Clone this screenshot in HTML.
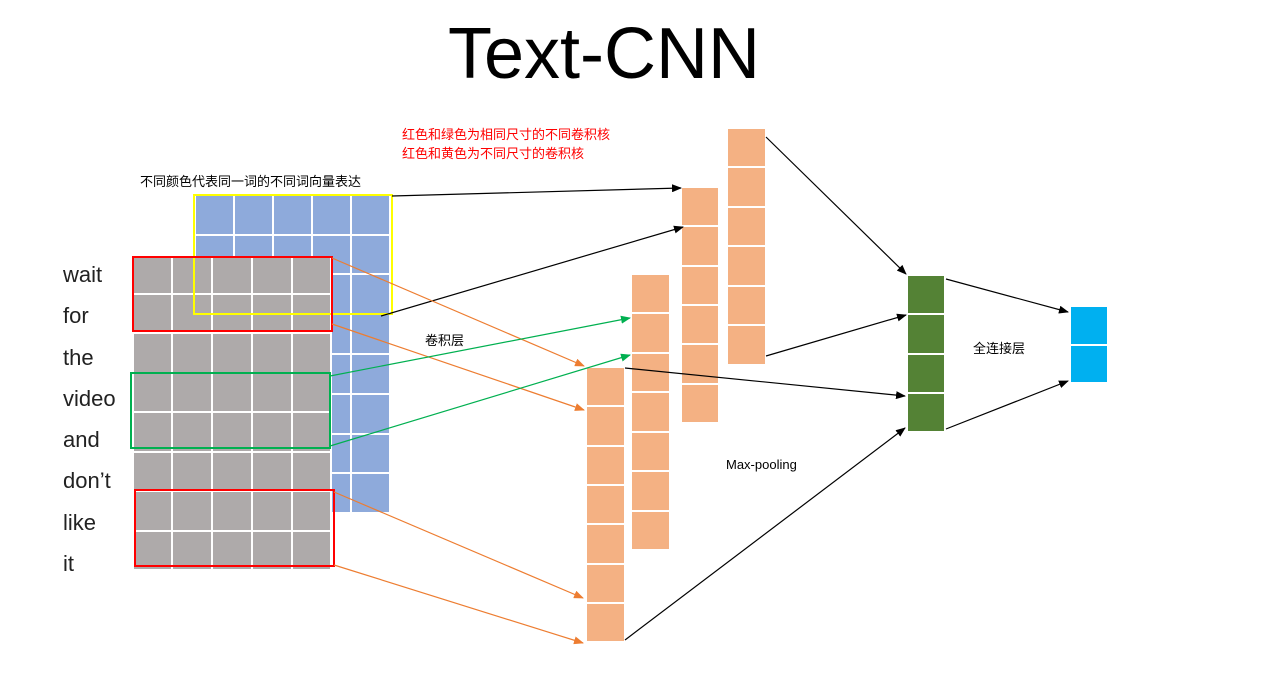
<!DOCTYPE html>
<html><head><meta charset="utf-8"><style>
body{margin:0;width:1275px;height:691px;background:#fff;position:relative;overflow:hidden;font-family:"Liberation Sans","Noto Sans CJK SC",sans-serif}
.t{position:absolute;white-space:nowrap}
</style></head><body>
<svg width="1275" height="691" style="position:absolute;left:0;top:0">
<defs>
<marker id="ak" markerWidth="10" markerHeight="8" refX="9" refY="4" orient="auto" markerUnits="userSpaceOnUse"><path d="M0,0 L10,4 L0,8z" fill="#000"/></marker>
<marker id="ao" markerWidth="10" markerHeight="8" refX="9" refY="4" orient="auto" markerUnits="userSpaceOnUse"><path d="M0,0 L10,4 L0,8z" fill="#ed7d31"/></marker>
<marker id="ag" markerWidth="10" markerHeight="8" refX="9" refY="4" orient="auto" markerUnits="userSpaceOnUse"><path d="M0,0 L10,4 L0,8z" fill="#00b050"/></marker>
</defs>
<!-- blue grid -->
<g stroke="#fff" stroke-width="2">
<rect x="195" y="195" width="195" height="318" fill="#8eaadb"/>
<line x1="234" y1="195" x2="234" y2="513"/><line x1="273" y1="195" x2="273" y2="513"/><line x1="312" y1="195" x2="312" y2="513"/><line x1="351" y1="195" x2="351" y2="513"/>
<line x1="195" y1="235" x2="390" y2="235"/><line x1="195" y1="274" x2="390" y2="274"/><line x1="195" y1="314" x2="390" y2="314"/><line x1="195" y1="354" x2="390" y2="354"/><line x1="195" y1="394" x2="390" y2="394"/><line x1="195" y1="434" x2="390" y2="434"/><line x1="195" y1="473" x2="390" y2="473"/>
</g>
<!-- gray grid -->
<g stroke="#fff" stroke-width="2">
<rect x="133" y="257" width="198" height="313" fill="#aeaaaa"/>
<line x1="172" y1="257" x2="172" y2="570"/><line x1="212" y1="257" x2="212" y2="570"/><line x1="252" y1="257" x2="252" y2="570"/><line x1="292" y1="257" x2="292" y2="570"/>
<line x1="133" y1="294" x2="331" y2="294"/><line x1="133" y1="333" x2="331" y2="333"/><line x1="133" y1="373" x2="331" y2="373"/><line x1="133" y1="412" x2="331" y2="412"/><line x1="133" y1="452" x2="331" y2="452"/><line x1="133" y1="491" x2="331" y2="491"/><line x1="133" y1="531" x2="331" y2="531"/>
</g>
<rect x="194" y="195" width="198" height="119" fill="none" stroke="#ffff00" stroke-width="2"/>
<rect x="133" y="257" width="199" height="74" fill="none" stroke="#ff0000" stroke-width="2"/>
<rect x="131" y="373" width="199" height="75" fill="none" stroke="#00b050" stroke-width="2"/>
<rect x="135" y="490" width="199" height="76" fill="none" stroke="#ff0000" stroke-width="2"/>
<!-- orange columns -->
<g fill="#f4b183" stroke="#fff" stroke-width="2">
<rect x="586" y="367" width="39" height="275"/>
<rect x="631" y="274" width="39" height="276"/>
<rect x="681" y="187" width="38" height="236"/>
<rect x="727" y="128" width="39" height="237"/>
</g>
<g stroke="#fff" stroke-width="2">
<line x1="586" y1="406" x2="625" y2="406"/><line x1="586" y1="446" x2="625" y2="446"/><line x1="586" y1="485" x2="625" y2="485"/><line x1="586" y1="524" x2="625" y2="524"/><line x1="586" y1="564" x2="625" y2="564"/><line x1="586" y1="603" x2="625" y2="603"/>
<line x1="631" y1="313" x2="670" y2="313"/><line x1="631" y1="353" x2="670" y2="353"/><line x1="631" y1="392" x2="670" y2="392"/><line x1="631" y1="432" x2="670" y2="432"/><line x1="631" y1="471" x2="670" y2="471"/><line x1="631" y1="511" x2="670" y2="511"/>
<line x1="681" y1="226" x2="719" y2="226"/><line x1="681" y1="266" x2="719" y2="266"/><line x1="681" y1="305" x2="719" y2="305"/><line x1="681" y1="344" x2="719" y2="344"/><line x1="681" y1="384" x2="719" y2="384"/>
<line x1="727" y1="167" x2="766" y2="167"/><line x1="727" y1="207" x2="766" y2="207"/><line x1="727" y1="246" x2="766" y2="246"/><line x1="727" y1="286" x2="766" y2="286"/><line x1="727" y1="325" x2="766" y2="325"/>
</g>
<rect x="907" y="275" width="38" height="157" fill="#548235" stroke="#fff" stroke-width="2"/>
<g stroke="#fff" stroke-width="2"><line x1="907" y1="314" x2="945" y2="314"/><line x1="907" y1="354" x2="945" y2="354"/><line x1="907" y1="393" x2="945" y2="393"/></g>
<rect x="1070" y="306" width="38" height="77" fill="#00b0f0" stroke="#fff" stroke-width="2"/>
<line x1="1070" y1="345" x2="1108" y2="345" stroke="#fff" stroke-width="2"/>
<!-- connectors -->
<g stroke="#000" stroke-width="1.2" marker-end="url(#ak)">
<line x1="392" y1="196" x2="681" y2="188"/>
<line x1="381" y1="316" x2="683" y2="227"/>
<line x1="625" y1="368" x2="905" y2="396"/>
<line x1="766" y1="137" x2="906" y2="274"/>
<line x1="766" y1="356" x2="906" y2="315"/>
<line x1="946" y1="279" x2="1068" y2="312"/>
<line x1="946" y1="429" x2="1068" y2="381"/>
<line x1="625" y1="640" x2="905" y2="428"/>
</g>
<g stroke="#ed7d31" stroke-width="1.2" marker-end="url(#ao)">
<line x1="332" y1="258" x2="584" y2="366"/>
<line x1="332" y1="324" x2="584" y2="410"/>
<line x1="334" y1="492" x2="583" y2="598"/>
<line x1="334" y1="565" x2="583" y2="643"/>
</g>
<g stroke="#00b050" stroke-width="1.2" marker-end="url(#ag)">
<line x1="330" y1="376" x2="630" y2="318"/>
<line x1="330" y1="446" x2="630" y2="355"/>
</g>
</svg>
<div class="t" style="left:448px;top:12px;font-size:72px;line-height:84px;color:#000">Text-CNN</div>
<div class="t" style="left:402px;top:125px;font-size:13px;line-height:19px;color:#ff0000">红色和绿色为相同尺寸的不同卷积核<br>红色和黄色为不同尺寸的卷积核</div>
<div class="t" style="left:140px;top:171px;font-size:13px;color:#000">不同颜色代表同一词的不同词向量表达</div>
<div class="t" style="left:425px;top:330px;font-size:13px">卷积层</div>
<div class="t" style="left:726px;top:457px;font-size:13px">Max-pooling</div>
<div class="t" style="left:973px;top:338px;font-size:13px">全连接层</div>
<div class="t" style="left:63px;top:254px;font-size:22px;line-height:41.3px;color:#222">wait<br>for<br>the<br>video<br>and<br>don’t<br>like<br>it</div>
</body></html>
